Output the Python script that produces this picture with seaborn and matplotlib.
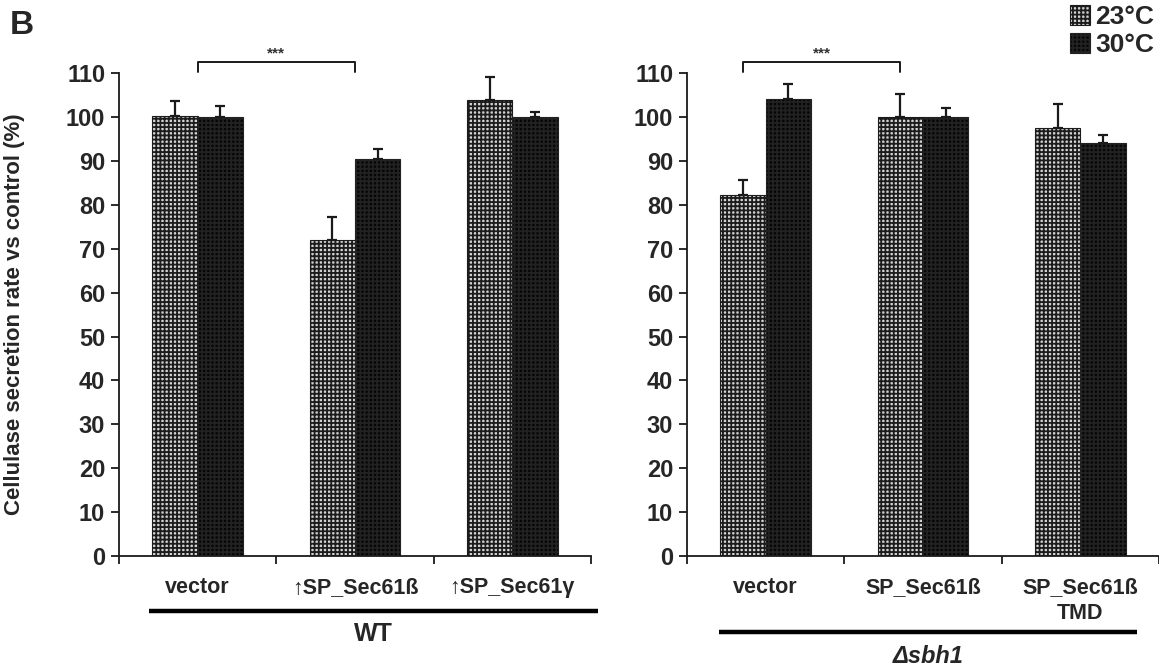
import numpy as np
import pandas as pd
import matplotlib.pyplot as plt
import matplotlib.transforms as mtransforms
import seaborn as sns

# values (% of control), upper error only
temps = ['23°C', '30°C']

wt_conditions = ['vector', '↑SP_Sec61ß', '↑SP_Sec61γ']
wt_23 = [100.3, 72.0, 103.8]
wt_30 = [100.0, 90.5, 100.0]
wt_23_err = [3.4, 5.3, 5.2]
wt_30_err = [2.6, 2.2, 1.2]

sbh_conditions = ['vector', 'SP_Sec61ß', 'SP_Sec61ß\nTMD']
sbh_23 = [82.3, 100.0, 97.5]
sbh_30 = [104.0, 100.0, 94.0]
sbh_23_err = [3.4, 5.3, 5.5]
sbh_30_err = [3.5, 2.0, 2.0]

yticks = list(range(0, 111, 10))

sns.set_style('ticks')
plt.rcParams['font.family'] = ['Liberation Sans', 'DejaVu Sans']
plt.rcParams['hatch.linewidth'] = 1.3

FACE = {'23°C': '#d2d2d2', '30°C': '#060606'}
EDGE = {'23°C': '#1c1c1c', '30°C': '#222222'}
INK = '#1a1a1a'


def long_df(conds, v23, v30):
    rows = []
    for c, a, b in zip(conds, v23, v30):
        rows.append({'condition': c, 'temp': '23°C', 'value': a})
        rows.append({'condition': c, 'temp': '30°C', 'value': b})
    return pd.DataFrame(rows)


def draw_panel(ax, conds, v23, v30, e23, e30):
    df = long_df(conds, v23, v30)
    sns.barplot(data=df, x='condition', y='value', hue='temp', order=conds,
                hue_order=temps, palette=FACE, width=0.575, errorbar=None,
                legend=False, ax=ax, linewidth=0.8)
    for cont, t, errs in zip(ax.containers, temps, [e23, e30]):
        xs, hs = [], []
        for p in cont.patches:
            p.set_hatch('++++')
            p.set_edgecolor(EDGE[t])
            xs.append(p.get_x() + p.get_width() / 2)
            hs.append(p.get_height())
        ax.errorbar(xs, hs, yerr=[np.zeros(len(errs)), errs], fmt='none',
                    ecolor=INK, elinewidth=1.6, capsize=3.6, capthick=1.6)

    ax.set_xlim(-0.5, len(conds) - 0.5)
    ax.set_ylim(0, 110)
    ax.set_yticks(yticks)
    ax.set_yticklabels([str(v) for v in yticks], fontsize=17, fontweight='bold')
    ax.set_xticks(np.arange(len(conds) + 1) - 0.5)
    ax.set_xticklabels([])
    ax.set_xticks(np.arange(len(conds)), minor=True)
    ax.set_xticklabels(conds, minor=True, fontsize=15.5, fontweight='bold',
                       linespacing=1.3)
    ax.tick_params(axis='x', which='minor', length=0, pad=15)
    ax.tick_params(axis='both', which='major', length=6, width=1.3, color=INK)
    ax.tick_params(axis='y', pad=4)
    ax.set_xlabel('')
    ax.set_ylabel('')
    for s in ['left', 'bottom']:
        ax.spines[s].set_linewidth(1.3)
        ax.spines[s].set_color(INK)
    sns.despine(ax=ax)


def bracket(ax, x0, x1):
    ax.plot([x0, x0, x1, x1], [110.2, 112.6, 112.6, 110.2], color=INK, lw=1.4,
            clip_on=False)
    ax.text((x0 + x1) / 2, 112.9, '***', ha='center', va='bottom', fontsize=11,
            fontweight='bold', color='#333333')


def group_line(ax, x0, x1, y, label, ytext, size, style='normal'):
    tr = mtransforms.blended_transform_factory(ax.transData, ax.transAxes)
    ax.plot([x0, x1], [y, y], color='black', lw=3.2, transform=tr,
            clip_on=False, solid_capstyle='butt')
    ax.text((x0 + x1) / 2, ytext, label, transform=tr, ha='center',
            va='center', fontsize=size, fontweight='bold', style=style)


fig = plt.figure(figsize=(11.59, 6.70), dpi=100)
ax1 = fig.add_axes([0.1027, 0.170, 0.4072, 0.721])
ax2 = fig.add_axes([0.5928, 0.170, 0.4072, 0.721])

draw_panel(ax1, wt_conditions, wt_23, wt_30, wt_23_err, wt_30_err)
draw_panel(ax2, sbh_conditions, sbh_23, sbh_30, sbh_23_err, sbh_30_err)

# significance brackets
bracket(ax1, 0.0, 1.0)
p_a = ax2.containers[0].patches
bracket(ax2, p_a[0].get_x() + p_a[0].get_width() / 2,
        p_a[1].get_x() + p_a[1].get_width() / 2)

group_line(ax1, -0.31, 2.545, -0.114, 'WT', -0.162, 18)
group_line(ax2, -0.30, 2.36, -0.157, 'Δsbh1', -0.208, 17, style='italic')

ax1.set_ylabel('Cellulase secretion rate vs control (%)', fontsize=16,
               fontweight='bold')
ax1.yaxis.set_label_coords(-0.2, 0.5)

fig.legend(handles=list(ax2.containers), labels=temps, loc='upper right',
           bbox_to_anchor=(1.0, 1.0), frameon=False, borderaxespad=0.1,
           borderpad=0.1, handlelength=0.75, handleheight=0.75,
           handletextpad=0.2, labelspacing=0.15,
           prop={'weight': 'bold', 'size': 19})

fig.text(0.008, 0.962, 'B', fontsize=24, fontweight='bold', va='center')

fig.savefig('out.png', dpi=100)
